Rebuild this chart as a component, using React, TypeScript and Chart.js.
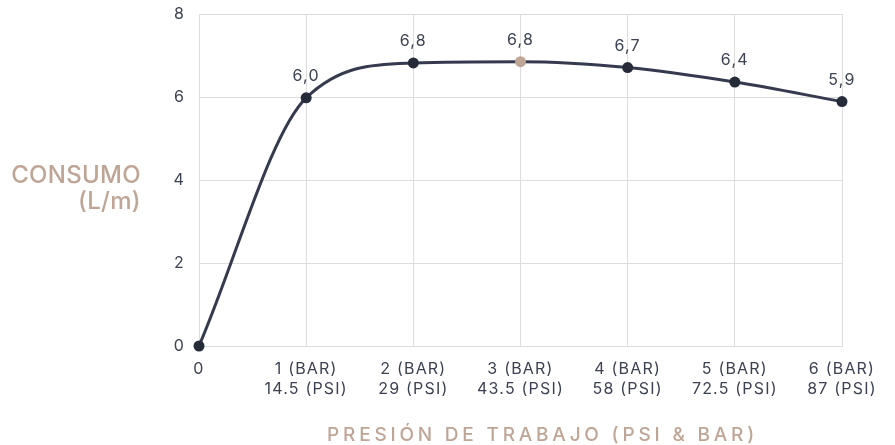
import { useEffect, useRef } from "react";
import { Chart, registerables } from "chart.js";

Chart.register(...registerables);

const categories: string[][] = [
  ["0"],
  ["1 (BAR)", "14.5 (PSI)"],
  ["2 (BAR)", "29 (PSI)"],
  ["3 (BAR)", "43.5 (PSI)"],
  ["4 (BAR)", "58 (PSI)"],
  ["5 (BAR)", "72.5 (PSI)"],
  ["6 (BAR)", "87 (PSI)"],
];
const consumo = [0, 5.98, 6.82, 6.85, 6.71, 6.36, 5.89];
const valueLabels = ["", "6,0", "6,8", "6,8", "6,7", "6,4", "5,9"];
const highlightIndex = 3;
const yMin = 0;
const yMax = 8;
const yStep = 2;
const yTitle = ["CONSUMO", "(L/m)"];
const xTitle = "PRESIÓN DE TRABAJO (PSI & BAR)";

const FONT = "Inter";
const TAN = "#bfa595";
const DARK = "#262b3a";
const LINE = "#363a4f";
const TEXT = "#3d4252";
const GRID = "#dddddd";
const TICK_SPACING = "1.2px";

const spacingPlugin = {
  id: "letterSpacing",
  beforeUpdate(chart: any) {
    (chart.ctx as any).letterSpacing = TICK_SPACING;
  },
  beforeDraw(chart: any) {
    (chart.ctx as any).letterSpacing = TICK_SPACING;
  },
};

const textPlugin = {
  id: "customTexts",
  afterDatasetsDraw(chart: any) {
    const ctx = chart.ctx as any;
    const meta = chart.getDatasetMeta(0);
    const area = chart.chartArea;
    ctx.save();
    ctx.letterSpacing = TICK_SPACING;
    ctx.font = `16px ${FONT}`;
    ctx.fillStyle = TEXT;
    ctx.textAlign = "center";
    ctx.textBaseline = "alphabetic";
    meta.data.forEach((el: any, i: number) => {
      if (valueLabels[i]) ctx.fillText(valueLabels[i], el.x, el.y - 17);
    });
    ctx.fillStyle = TAN;
    ctx.letterSpacing = "0.3px";
    ctx.font = `500 24px ${FONT}`;
    ctx.textAlign = "right";
    const yTitleRight = area.left - 58;
    ctx.fillText(yTitle[0], yTitleRight, 183);
    ctx.fillText(yTitle[1], yTitleRight, 209);
    ctx.letterSpacing = "3.8px";
    ctx.font = `500 19px ${FONT}`;
    ctx.textAlign = "center";
    ctx.fillText(xTitle, (area.left + area.right) / 2 + 22, chart.height - 4);
    ctx.restore();
  },
};

export default function App() {
  const ref = useRef<HTMLCanvasElement | null>(null);
  useEffect(() => {
    document.body.style.margin = "0";
    if (!ref.current) return;
    const chart = new Chart(ref.current, {
      type: "line",
      data: {
        labels: categories as any,
        datasets: [
          {
            data: consumo,
            borderColor: LINE,
            borderWidth: 3,
            cubicInterpolationMode: "monotone",
            pointRadius: 5.5,
            pointBorderWidth: 0,
            pointBackgroundColor: consumo.map((_, i) => (i === highlightIndex ? TAN : DARK)),
            fill: false,
            clip: false,
          } as any,
        ],
      },
      options: {
        responsive: false,
        animation: false,
        layout: { padding: { top: 14, right: 53, left: 0, bottom: 0 } },
        plugins: { legend: { display: false }, tooltip: { enabled: false } },
        scales: {
          x: {
            type: "category",
            offset: false,
            grid: { color: GRID, drawTicks: false },
            border: { color: GRID },
            ticks: {
              color: TEXT,
              font: { family: FONT, size: 16, lineHeight: 1.25 },
              padding: 13,
              maxRotation: 0,
              autoSkip: false,
            },
            afterFit: (s: any) => {
              s.height = 99;
            },
          },
          y: {
            min: yMin,
            max: yMax,
            grid: { color: GRID, drawTicks: false },
            border: { color: GRID },
            ticks: {
              stepSize: yStep,
              color: TEXT,
              font: { family: FONT, size: 16 },
              padding: 14,
            },
            afterFit: (s: any) => {
              s.width = 199;
              s.paddingTop = 0;
              s.paddingBottom = 0;
            },
          },
        },
      },
      plugins: [spacingPlugin, textPlugin],
    });
    return () => chart.destroy();
  }, []);
  return <canvas ref={ref} width={895} height={445} style={{ display: "block" }} />;
}
